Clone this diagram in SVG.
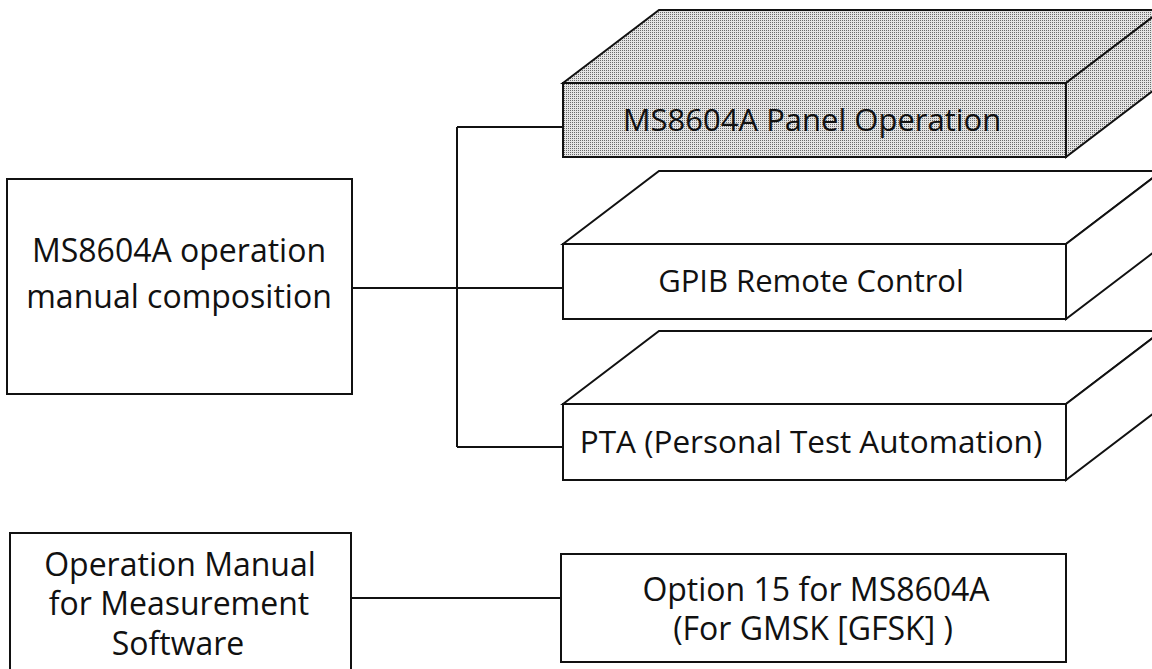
<svg xmlns="http://www.w3.org/2000/svg" width="1152" height="669" viewBox="0 0 1152 669">
  <style>
    .ln { fill: none; stroke: #111; stroke-width: 2; stroke-linejoin: miter; }
    .box { fill: #fff; stroke: #111; stroke-width: 2; stroke-linejoin: miter; }
    .shaded { fill: url(#stipple); stroke: #111; stroke-width: 2; stroke-linejoin: miter; }
    .txt { font-family: "Open Sans", "Noto Sans", "Liberation Sans", sans-serif; font-size: 31px; fill: #111; text-anchor: middle; }
    .big { font-size: 32px; }
  </style>
  <defs>
    <pattern id="stipple" width="2" height="2" patternUnits="userSpaceOnUse">
      <rect width="2" height="2" fill="#e4e4e4"/>
      <rect width="1" height="1" fill="#6a6a6a"/>
    </pattern>
  </defs>
  <rect width="1152" height="669" fill="#fff"/>

  <g id="connectors">
    <line class="ln" x1="352" y1="288" x2="563" y2="288"/>
    <line class="ln" x1="457" y1="127" x2="457" y2="447"/>
    <line class="ln" x1="457" y1="127" x2="563" y2="127"/>
    <line class="ln" x1="457" y1="447" x2="563" y2="447"/>
    <line class="ln" x1="351" y1="598" x2="561" y2="598"/>
  </g>

  <g id="node-composition">
    <rect class="box" x="7" y="179" width="345" height="215"/>
    <text class="txt big" x="179" y="262">MS8604A operation</text>
    <text class="txt big" x="179" y="308">manual composition</text>
  </g>

  <g id="node-panel">
    <polygon class="shaded" points="563,83 659,10 1162,10 1066,83"/>
    <polygon class="shaded" points="1066,83 1162,10 1162,84 1066,157"/>
    <rect class="shaded" x="563" y="83" width="503" height="74"/>
    <text class="txt" x="812" y="131">MS8604A Panel Operation</text>
  </g>

  <g id="node-gpib">
    <polygon class="box" points="563,244 659,171 1162,171 1066,244"/>
    <polygon class="box" points="1066,244 1162,171 1162,246 1066,319"/>
    <rect class="box" x="563" y="244" width="503" height="75"/>
    <text class="txt" x="811" y="292">GPIB Remote Control</text>
  </g>

  <g id="node-pta">
    <polygon class="box" points="563,404 659,331 1162,331 1066,404"/>
    <polygon class="box" points="1066,404 1162,331 1162,407 1066,480"/>
    <rect class="box" x="563" y="404" width="503" height="76"/>
    <text class="txt" x="811" y="453" style="font-size:31.5px">PTA (Personal Test Automation)</text>
  </g>

  <g id="node-measurement">
    <path class="box" d="M10,680 V533 H351 V680"/>
    <text class="txt big" x="180" y="576">Operation Manual</text>
    <text class="txt big" x="179" y="615">for Measurement</text>
    <text class="txt big" x="178" y="655">Software</text>
  </g>

  <g id="node-option15">
    <rect class="box" x="561" y="554" width="505" height="108"/>
    <text class="txt big" x="816" y="601">Option 15 for MS8604A</text>
    <text class="txt big" x="813" y="640">(For GMSK [GFSK] )</text>
  </g>
</svg>
